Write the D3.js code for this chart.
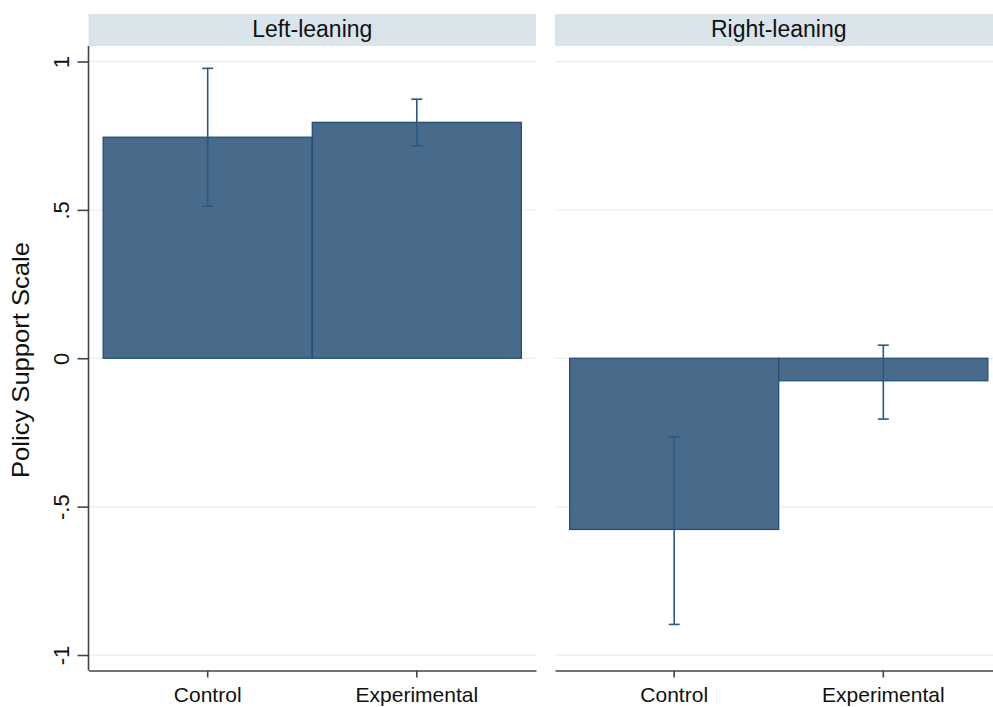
<!DOCTYPE html>
<html>
<head>
<meta charset="utf-8">
<script src="https://cdn.jsdelivr.net/npm/d3@7"></script>
<style>
  html, body { margin: 0; padding: 0; background: #ffffff; }
  svg { display: block; font-family: "Liberation Sans", Arial, sans-serif; }
</style>
</head>
<body>
<svg id="chart" width="993" height="707"></svg>
<script>
// Panels and categories
const groups = ["Left-leaning", "Right-leaning"];
const conditions = ["Control", "Experimental"];

// Mean policy support per condition, one array per panel
const meansLeft = [0.745, 0.795];
const meansRight = [-0.577, -0.076];

// Confidence interval bounds
const ciLowLeft = [0.513, 0.716];
const ciHighLeft = [0.977, 0.873];
const ciLowRight = [-0.897, -0.205];
const ciHighRight = [-0.265, 0.044];

// Y axis ticks and their labels
const yTicks = [-1, -0.5, 0, 0.5, 1];
const yTickLabels = ["-1", "-.5", "0", ".5", "1"];

const yTitle = "Policy Support Scale";

const panelData = [
  { group: groups[0], means: meansLeft, lo: ciLowLeft, hi: ciHighLeft },
  { group: groups[1], means: meansRight, lo: ciLowRight, hi: ciHighRight }
];

const svg = d3.select("#chart");

const panelX = [88.5, 555];
const panelW = 447.5;
const headerTop = 14, headerBottom = 46, axisY = 670.5;

const y = d3.scaleLinear().domain([-1, 1]).range([655, 61.5]);

const barFill = "#486a8b";
const barStroke = "#1f4a74";
const errColor = "#2b5985";
const axisColor = "#444444";
const gridColor = "#eaf1f3";

panelData.forEach((p, i) => {
  const x0 = panelX[i];
  const g = svg.append("g");

  const x = d3.scaleBand()
    .domain(conditions)
    .range([x0, x0 + panelW])
    .paddingInner(0)
    .paddingOuter(0.07);

  // header strip
  g.append("rect")
    .attr("x", x0).attr("y", headerTop)
    .attr("width", panelW).attr("height", headerBottom - headerTop)
    .attr("fill", "#d9e5ea");
  g.append("text")
    .attr("x", x0 + panelW / 2).attr("y", 37)
    .attr("text-anchor", "middle")
    .attr("font-size", 23)
    .attr("fill", "#111")
    .text(p.group);

  // horizontal gridlines
  g.selectAll("line.grid").data(yTicks).join("line")
    .attr("class", "grid")
    .attr("x1", x0).attr("x2", x0 + panelW)
    .attr("y1", d => y(d)).attr("y2", d => y(d))
    .attr("stroke", gridColor).attr("stroke-width", 1.5);

  // bars
  g.selectAll("rect.bar").data(conditions).join("rect")
    .attr("class", "bar")
    .attr("x", c => x(c))
    .attr("width", x.bandwidth())
    .attr("y", (c, j) => Math.min(y(p.means[j]), y(0)))
    .attr("height", (c, j) => Math.abs(y(p.means[j]) - y(0)))
    .attr("fill", barFill)
    .attr("stroke", barStroke)
    .attr("stroke-width", 1.2);

  // error bars
  const cap = 5.5;
  conditions.forEach((c, j) => {
    const cx = x(c) + x.bandwidth() / 2;
    const eg = g.append("g").attr("stroke", errColor).attr("stroke-width", 1.6);
    eg.append("line").attr("x1", cx).attr("x2", cx)
      .attr("y1", y(p.lo[j])).attr("y2", y(p.hi[j]));
    eg.append("line").attr("x1", cx - cap).attr("x2", cx + cap)
      .attr("y1", y(p.lo[j])).attr("y2", y(p.lo[j]));
    eg.append("line").attr("x1", cx - cap).attr("x2", cx + cap)
      .attr("y1", y(p.hi[j])).attr("y2", y(p.hi[j]));
  });

  // bottom axis
  const xAxis = d3.axisBottom(x).tickSize(7).tickSizeOuter(0).tickPadding(10);
  const ax = g.append("g").attr("transform", `translate(0,${axisY})`).call(xAxis);
  ax.select(".domain").attr("stroke", axisColor).attr("stroke-width", 1.6);
  ax.selectAll(".tick line").attr("stroke", axisColor).attr("stroke-width", 1.6);
  ax.selectAll(".tick text")
    .attr("font-size", 21)
    .attr("font-family", "Liberation Sans, Arial, sans-serif")
    .attr("fill", "#111");

  // left axis on the first panel only
  if (i === 0) {
    const yAxis = d3.axisLeft(y)
      .tickValues(yTicks)
      .tickFormat((d, k) => yTickLabels[k])
      .tickSize(11)
      .tickSizeOuter(0);
    const ay = g.append("g").attr("transform", `translate(${x0},0)`).call(yAxis);
    ay.select(".domain").remove();
    ay.selectAll(".tick line").attr("stroke", axisColor).attr("stroke-width", 1.6);
    ay.selectAll(".tick text")
      .attr("font-size", 22)
      .attr("font-family", "Liberation Sans, Arial, sans-serif")
      .attr("fill", "#111")
      .attr("text-anchor", "middle")
      .attr("dy", null)
      .attr("x", null)
      .attr("transform", "translate(-20,0) rotate(-90)");
    g.append("line")
      .attr("x1", x0).attr("x2", x0)
      .attr("y1", headerBottom).attr("y2", axisY)
      .attr("stroke", axisColor).attr("stroke-width", 1.6);
  }
});

// y axis title
svg.append("text")
  .attr("transform", "translate(29,360) rotate(-90)")
  .attr("text-anchor", "middle")
  .attr("font-size", 24)
  .attr("textLength", 236)
  .attr("lengthAdjust", "spacingAndGlyphs")
  .attr("fill", "#111")
  .text(yTitle);
</script>
</body>
</html>
